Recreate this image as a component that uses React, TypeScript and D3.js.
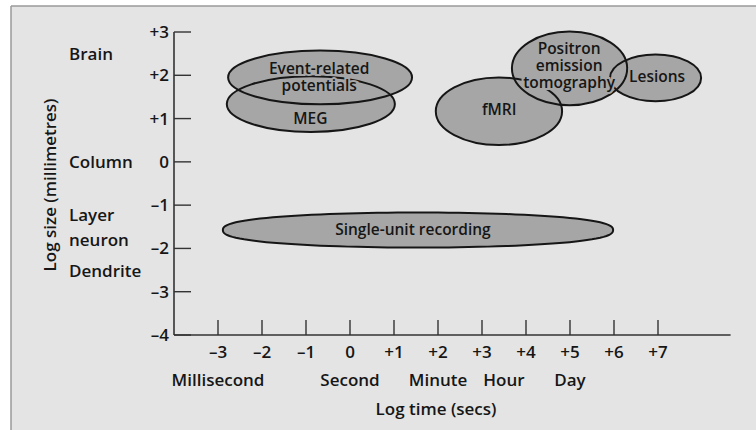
import React from "react";
import * as d3 from "d3";

// axis ticks (log10 units)
const timeTicks = [-3, -2, -1, 0, 1, 2, 3, 4, 5, 6, 7];
const sizeTicks = [3, 2, 1, 0, -1, -2, -3, -4];
const fmt = (v: number) => (v > 0 ? `+${v}` : v < 0 ? `–${Math.abs(v)}` : "0");

// named time units under the x axis
const timeUnits = [
  { label: "Millisecond", t: -3 },
  { label: "Second", t: 0 },
  { label: "Minute", t: 2 },
  { label: "Hour", t: 3.5 },
  { label: "Day", t: 5 },
];

// named sizes left of the y axis
const sizeUnits = [
  { label: "Brain", s: 2.5 },
  { label: "Column", s: 0 },
  { label: "Layer", s: -1.22 },
  { label: "neuron", s: -1.8 },
  { label: "Dendrite", s: -2.53 },
];

// techniques: time range (t0..t1), size range (s0..s1), label anchor (lt, ls)
const techniques = [
  { name: ["Event-related", "potentials"], t0: -2.77, t1: 1.41, s0: 1.33, s1: 2.57, lt: -0.7, ls: 1.96 },
  { name: ["MEG"], t0: -2.8, t1: 1.02, s0: 0.69, s1: 1.98, lt: -0.9, ls: 1.0 },
  { name: ["fMRI"], t0: 1.95, t1: 4.82, s0: 0.39, s1: 1.95, lt: 3.39, ls: 1.2 },
  { name: ["Positron", "emission", "tomography"], t0: 3.68, t1: 6.3, s0: 1.31, s1: 3.01, lt: 4.98, ls: 2.22 },
  { name: ["Lesions"], t0: 5.91, t1: 7.98, s0: 1.4, s1: 2.48, lt: 6.98, ls: 1.96 },
];

const singleUnit = { name: "Single-unit recording", t0: -2.89, t1: 5.98, s0: -1.98, s1: -1.17, lt: 1.43, ls: -1.57 };

const W = 756;
const H = 430;
const FONT = "'Open Sans', 'DejaVu Sans', sans-serif";
const FILL = "#a6a6a6";
const BG = "#e4e4e4";
const INK = "#161616";

export default function App() {
  const x = d3.scaleLinear().domain([-4, 8.65]).range([174, 730.6]);
  const y = d3.scaleLinear().domain([-4, 3]).range([335, 32]);

  const ell = (d: { t0: number; t1: number; s0: number; s1: number }) => ({
    cx: (x(d.t0) + x(d.t1)) / 2,
    cy: (y(d.s0) + y(d.s1)) / 2,
    rx: (x(d.t1) - x(d.t0)) / 2,
    ry: (y(d.s0) - y(d.s1)) / 2,
  });

  // slightly pointed lens for single-unit recording
  const su = ell(singleUnit);
  const lensPts: [number, number][] = d3.range(0, 360, 3).map((a) => {
    const r = (a * Math.PI) / 180;
    const c = Math.cos(r);
    const s = Math.sin(r);
    return [su.cx + su.rx * c, su.cy + su.ry * Math.sign(s) * Math.pow(Math.abs(s), 0.8)];
  });
  const lens = d3.line().curve(d3.curveLinearClosed)(lensPts) || "";

  const lineH = 17;
  const axisText = { fontSize: 17, fontWeight: 600, fill: INK } as const;
  const markText = {
    fontSize: 15.5,
    fontWeight: 600,
    fill: INK,
    stroke: FILL,
    strokeWidth: 4,
    paintOrder: "stroke",
    textAnchor: "middle",
  } as const;

  return (
    <svg
      width={W}
      height={H}
      style={{ position: "absolute", left: 0, top: 0, display: "block", background: "#fff" }}
      fontFamily={FONT}
    >
      {/* frame */}
      <rect x={11} y={6} width={W - 11} height={H - 6} fill={BG} />
      <line x1={11} x2={W} y1={6} y2={6} stroke="#9a9a9a" strokeWidth={1.5} />
      <line x1={11} x2={11} y1={6} y2={H} stroke="#9a9a9a" strokeWidth={1.5} />

      {/* y axis */}
      <line x1={x(-4)} x2={x(-4)} y1={y(3)} y2={y(-4)} stroke="#333" strokeWidth={1.6} />
      {sizeTicks.map((s) => (
        <g key={`ys${s}`}>
          <line x1={x(-4)} x2={x(-4) + 17} y1={y(s)} y2={y(s)} stroke="#333" strokeWidth={1.4} />
          <text x={169} y={y(s)} dy="0.35em" textAnchor="end" {...axisText}>
            {fmt(s)}
          </text>
        </g>
      ))}

      {/* x axis */}
      <line x1={x(-4)} x2={x(8.65)} y1={y(-4)} y2={y(-4)} stroke="#333" strokeWidth={1.6} />
      {timeTicks.map((t) => (
        <g key={`xt${t}`}>
          <line x1={x(t)} x2={x(t)} y1={y(-4)} y2={y(-4) - 15} stroke="#333" strokeWidth={1.4} />
          <text x={x(t)} y={352} dy="0.35em" textAnchor="middle" {...axisText}>
            {fmt(t)}
          </text>
        </g>
      ))}

      {timeUnits.map((u) => (
        <text key={u.label} x={x(u.t)} y={380} dy="0.35em" textAnchor="middle" {...axisText}>
          {u.label}
        </text>
      ))}
      {sizeUnits.map((u) => (
        <text key={u.label} x={69} y={y(u.s)} dy="0.35em" {...axisText}>
          {u.label}
        </text>
      ))}

      <text x={436} y={409} dy="0.35em" textAnchor="middle" {...axisText}>
        Log time (secs)
      </text>
      <text transform={`translate(50, 185) rotate(-90)`} textAnchor="middle" dy="0.35em" {...axisText}>
        Log size (millimetres)
      </text>

      {/* technique fills, then outlines */}
      <path d={lens} fill={FILL} />
      {techniques.map((d) => {
        const e = ell(d);
        return <ellipse key={`f${d.name[0]}`} cx={e.cx} cy={e.cy} rx={e.rx} ry={e.ry} fill={FILL} />;
      })}
      <path d={lens} fill="none" stroke={INK} strokeWidth={2} />
      {techniques.map((d) => {
        const e = ell(d);
        return (
          <ellipse key={`s${d.name[0]}`} cx={e.cx} cy={e.cy} rx={e.rx} ry={e.ry} fill="none" stroke={INK} strokeWidth={2} />
        );
      })}

      {/* labels with halo */}
      {techniques.map((d) =>
        d.name.map((ln, i) => (
          <text
            key={`l${ln}`}
            x={x(d.lt)}
            y={y(d.ls) + (i - (d.name.length - 1) / 2) * lineH}
            dy="0.35em"
            {...markText}
          >
            {ln}
          </text>
        ))
      )}
      <text x={x(singleUnit.lt)} y={y(singleUnit.ls)} dy="0.35em" {...markText}>
        {singleUnit.name}
      </text>
    </svg>
  );
}
